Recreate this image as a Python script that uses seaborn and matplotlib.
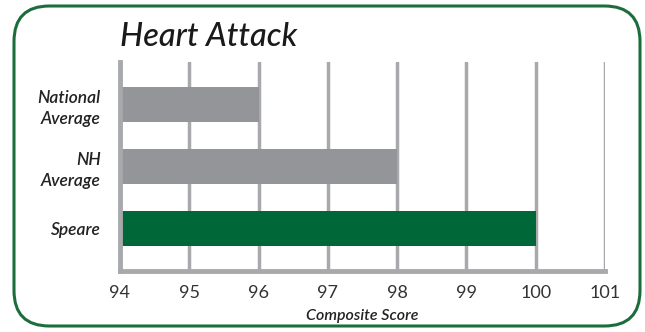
import matplotlib
matplotlib.use("Agg")
import matplotlib.pyplot as plt
import seaborn as sns
from matplotlib.patches import FancyBboxPatch

groups = ["National\nAverage", "NH\nAverage", "Speare"]
scores = [96, 98, 100]
bar_colors = ["#939598", "#939598", "#006838"]
x_ticks = [94, 95, 96, 97, 98, 99, 100, 101]

sns.set_style("white")
plt.rcParams["font.family"] = ["Lato", "DejaVu Sans"]

fig = plt.figure(figsize=(6.45, 3.32), dpi=100)
ax = fig.add_axes([120 / 645, 61 / 332, 485 / 645, 209 / 332])

sns.barplot(x=scores, y=groups, hue=groups, palette=bar_colors, orient="h",
            width=0.56, saturation=1, linewidth=0, legend=False, ax=ax, zorder=3)

ax.set_xlim(94, 101)
ax.set_ylim(2.68, -0.685)
ax.set_xticks(x_ticks)
ax.set_xticklabels([str(t) for t in x_ticks], fontsize=13, color="#333333")
ax.set_yticks(range(len(groups)))
ax.set_yticklabels(groups, fontsize=12.5, style="italic", weight="semibold",
                   color="#222222", linespacing=1.4)
ax.tick_params(axis="both", length=0)
ax.tick_params(axis="x", pad=10)
ax.tick_params(axis="y", pad=14)

# vertical grid lines
ax.grid(axis="x", color="#a7a9ac", linewidth=2.5, zorder=1)
ax.grid(axis="y", visible=False)
for side in ["top", "right"]:
    ax.spines[side].set_visible(False)
for side in ["left", "bottom"]:
    ax.spines[side].set_color("#a7a9ac")
    ax.spines[side].set_linewidth(3.5)
    ax.spines[side].set_zorder(4)

ax.set_xlabel("Composite Score", fontsize=11.5, style="italic", weight="semibold",
              color="#222222", labelpad=6)
ax.set_ylabel("")

fig.text(120 / 645, 1 - 37 / 332, "Heart Attack", fontsize=23.5, style="italic",
         weight="medium", color="#1a1a1a", va="center", ha="left")

# rounded frame around the whole chart
frame = FancyBboxPatch((14 / 645, 6 / 332), 626 / 645, 320 / 332,
                       boxstyle="round,pad=0,rounding_size=0.055",
                       transform=fig.transFigure, facecolor="none",
                       edgecolor="#1b6e3c", linewidth=2.2, mutation_aspect=645 / 332)
fig.patches.append(frame)

fig.savefig("out.png", dpi=100, facecolor="white")
